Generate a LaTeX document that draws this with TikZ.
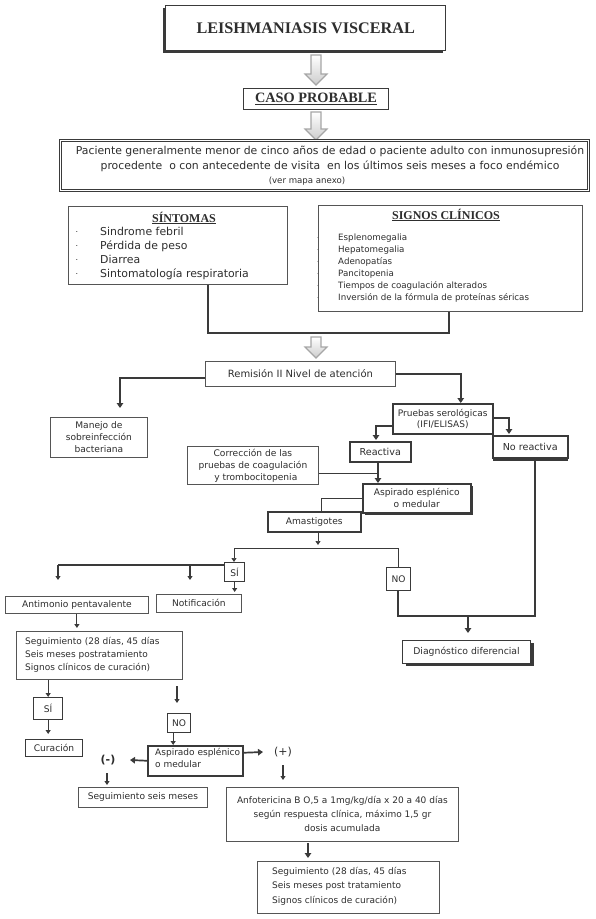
\documentclass[tikz,border=0pt]{standalone}
\usepackage{fontspec}
\setmainfont{DejaVu Sans}
\newfontfamily\serifb{Liberation Serif}
\usetikzlibrary{arrows.meta,shadows}
\definecolor{txt}{HTML}{2E2E2E}
\definecolor{dk}{HTML}{3A3A3A}
\definecolor{bd}{HTML}{555555}
\begin{document}
\begin{tikzpicture}[x=1pt,y=-1pt,
  every node/.style={text=txt, inner sep=0pt},
  box/.style={draw=bd, line width=0.8pt, fill=white, anchor=north west},
  tbox/.style={draw=dk, line width=1.6pt, fill=white, anchor=north west},
  conn/.style={draw=dk, line width=1.7pt},
  med/.style={draw=dk, line width=1.1pt},
  fine/.style={draw=dk, line width=0.7pt},
  arr/.style={-{Triangle[width=6.5pt,length=5pt]}},
  sarr/.style={-{Triangle[width=5pt,length=4pt]}},
  hollow/.style={draw=gray!70, line width=1.1pt, top color=white, bottom color=gray!40},
  pics/harrow/.style={code={\draw[hollow] (-5,0) -- (5,0) -- (5,#1-11) -- (11,#1-11) -- (0,#1) -- (-11,#1-11) -- (-5,#1-11) -- cycle;}},
  small/.style={font=\fontsize{9.1}{12}\selectfont},
  head/.style={font=\serifb\bfseries\fontsize{12}{14}\selectfont}
]
\useasboundingbox (0,0) rectangle (596,919);
\fill[white] (0,0) rectangle (596,919);

% title
\node[tbox, line width=1.4pt, minimum width=280pt, minimum height=45pt,
  drop shadow={shadow xshift=-2.5pt,shadow yshift=-2.5pt,fill=dk,opacity=1},
  font=\serifb\bfseries\fontsize{16.2}{18}\selectfont] (title) at (165,5) {LEISHMANIASIS VISCERAL};
\pic at (316,55) {harrow=30};

\node[box, draw=dk, line width=1.1pt, minimum width=145pt, minimum height=21pt,
  font=\serifb\bfseries\fontsize{14.3}{16}\selectfont] (caso) at (243,88) {\underline{CASO PROBABLE}};
\pic at (316,112) {harrow=28};

% patient
\node[box, draw=dk, line width=1pt, double=white, double distance=1.2pt,
  minimum width=528pt, minimum height=50pt] (pac) at (60,140) {};
\node[align=center, font=\fontsize{10.85}{15}\selectfont] (pacT) at (330,158.5)
  {Paciente generalmente menor de cinco años de edad o paciente adulto con inmunosupresión\\
   procedente\ \ o con antecedente de visita\ \ en los últimos seis meses a foco endémico};
\node[font=\fontsize{8.6}{10}\selectfont] (pacM) at (307,181) {(ver mapa anexo)};

% sintomas
\node[box, minimum width=219pt, minimum height=78pt] (sint) at (68,206) {};
\node[head] (sintH) at (184,218) {\underline{SÍNTOMAS}};
\node[anchor=north west, align=left, font=\fontsize{10.9}{14}\selectfont] (sintT) at (100,227)
  {Sindrome febril\\Pérdida de peso\\Diarrea\\Sintomatología respiratoria};
\foreach \yy/\nn in {232/d1,246/d2,260/d3,274/d4}
  \node[font=\fontsize{8}{9}\selectfont] (\nn) at (77,\yy) {.};

% signos
\node[box, minimum width=264pt, minimum height=106pt] (sig) at (318,205) {};
\node[head] (sigH) at (446,215) {\underline{SIGNOS CLÍNICOS}};
\node[anchor=north west, align=left, font=\fontsize{8.7}{12}\selectfont] (sigT) at (338,234)
  {Esplenomegalia\\Hepatomegalia\\Adenopatías\\Pancitopenia\\Tiempos de coagulación alterados\\Inversión de la fórmula de proteínas séricas};
\foreach \yy/\nn in {238/e1,250/e2,262/e3,274/e4,286/e5,298/e6}
  \node[font=\fontsize{5}{6}\selectfont] (\nn) at (318,\yy) {.};

\coordinate (jL) at (208,333);
\coordinate (jR) at (449,333);
\draw[conn] (sint.south -| jL) -- (jL) -- (jR) -- (sig.south -| jR);
\pic at (316,337) {harrow=21};

% remision
\node[box, minimum width=190pt, minimum height=25pt, font=\fontsize{10}{12}\selectfont] (rem) at (205,361) {Remisión II Nivel de atención};

\node[box, minimum width=97pt, minimum height=40pt, align=center, small] (man) at (50,417) {Manejo de\\sobreinfección\\bacteriana};
\node[tbox, line width=1.5pt, minimum width=100pt, minimum height=30pt, align=center, font=\fontsize{9}{11.5}\selectfont] (pru) at (392,403) {Pruebas serológicas\\(IFI/ELISAS)};
\node[tbox, line width=1.5pt, minimum width=61pt, minimum height=20pt, font=\fontsize{9.6}{11}\selectfont] (reac) at (349,441) {Reactiva};
\node[tbox, line width=1.5pt, minimum width=75pt, minimum height=22pt, font=\fontsize{9.6}{11}\selectfont,
  drop shadow={shadow xshift=0pt,shadow yshift=-3pt,fill=dk,opacity=1}] (nore) at (492,435) {No reactiva};

\coordinate (mTip) at (120,408);
\draw[conn,arr] ([yshift=-4pt]rem.west) -| (mTip);
\draw[conn,arr] (rem.east) -| ([xshift=18pt]pru.north);
\coordinate (rTip) at (376,440);
\draw[conn,arr] ([yshift=-7pt]pru.west) -| (rTip);
\coordinate (nrTip) at (509,434);
\draw[conn,arr] ([yshift=1pt]pru.east) -| (nrTip);

\node[box, minimum width=131pt, minimum height=38pt, align=center, small] (corr) at (187,446) {Corrección de las\\pruebas de coagulación\\\ \ y trombocitopenia};
\node[tbox, line width=1.5pt, minimum width=108pt, minimum height=29pt, align=center, small,
  drop shadow={shadow xshift=2.5pt,shadow yshift=-2.5pt,fill=dk,opacity=1}] (asp) at (362,483) {Aspirado esplénico\\o medular};
\coordinate (rx) at (378,0);
\draw[conn,arr] (reac.south -| rx) -- (asp.north -| rx);
\draw[conn] ([yshift=-8pt]corr.east) -- ([yshift=-8pt]corr.east -| rx);

\node[tbox, line width=1.5pt, minimum width=93pt, minimum height=20pt, small] (amas) at (267,511) {Amastigotes};
\coordinate (ax) at (321,0);
\draw[fine] (asp.west) -| (amas.north -| ax);

\node[tbox, line width=1.3pt, minimum width=20pt, minimum height=19pt, small] (si) at (224,562) {SÍ};
\node[tbox, line width=1.3pt, minimum width=24pt, minimum height=23pt, small] (no1) at (386,567) {NO};
\coordinate (hL) at (234,548);
\coordinate (hR) at (398,548);
\coordinate (hM) at (318,545);
\draw[fine,sarr] (amas.south -| hM) -- (hM);
\draw[fine] (hL) -- (hR) -- (no1.north -| hR);
\draw[fine,sarr] (hL) -- (si.north -| hL);

\node[box, minimum width=143pt, minimum height=17pt, small] (ant) at (5,596) {Antimonio pentavalente};
\node[box, minimum width=85pt, minimum height=18pt, small] (noti) at (156,594) {Notificación};
\coordinate (sL) at (58,565);
\coordinate (sN) at (190,565);
\coordinate (antTip) at (58,580);
\coordinate (notTip) at (190,580);
\draw[med] (si.west |- sL) -- (sL);
\draw[med,sarr] (sL) -- (antTip);
\draw[med,sarr] (sN) -- (notTip);
\draw[med,sarr] (si.south) -- ([yshift=2pt]si.south |- noti.north);

\node[box, line width=1pt, draw=dk, minimum width=128pt, minimum height=23pt, font=\fontsize{9.3}{11}\selectfont,
  drop shadow={shadow xshift=3pt,shadow yshift=-2.5pt,fill=dk,opacity=1}] (diag) at (402,640) {Diagnóstico diferencial};
\coordinate (nB) at (398,616);
\coordinate (nC) at (535,616);
\coordinate (dX) at (468,616);
\coordinate (dTip) at (468,633);
\draw[conn] (no1.south -| nB) -- (nB) -- (nC) -- (nore.south -| nC);
\draw[conn,arr] (dX) -- (dTip);

\node[box, minimum width=166pt, minimum height=48pt] (seg1) at (16,631) {};
\node[anchor=north west, align=left, font=\fontsize{9}{13}\selectfont] (seg1T) at (25,637)
  {Seguimiento (28 días, 45 días\\Seis meses postratamiento\\Signos clínicos de curación)};
\draw[med,sarr] (ant.south) -- ([yshift=3pt]seg1.north -| ant.south);

\node[tbox, line width=1.3pt, minimum width=29pt, minimum height=22pt, small] (si2) at (33,697) {SÍ};
\node[box, line width=1pt, draw=dk, minimum width=57pt, minimum height=17pt, small] (cur) at (25,739) {Curación};
\node[tbox, line width=1.3pt, minimum width=23pt, minimum height=19pt, small] (no2) at (167,713) {NO};
\node[tbox, line width=1.5pt, minimum width=95pt, minimum height=30pt] (asp2) at (147,745) {};
\node[anchor=north west, align=left, font=\fontsize{9}{12}\selectfont] (asp2T) at (155,748)
  {Aspirado esplénico\\o medular};

\draw[med,sarr] (seg1.south -| si2.north) -- (si2.north);
\coordinate (a1s) at (177,686);
\coordinate (a1e) at (177,703);
\draw[med,sarr] (a1s) -- (a1e);
\draw[med,sarr] (si2.south) -- ([yshift=5pt]cur.north -| si2.south);
\draw[med,sarr] ([xshift=-6pt]no2.south) -- ([xshift=-6pt]no2.south |- asp2.north);

\node[font=\bfseries\fontsize{11}{12}\selectfont] (neg) at (108,760) {(-)};
\node[font=\fontsize{11}{12}\selectfont] (pos) at (283,752) {(+)};
\coordinate (nTip) at (130,760);
\draw[conn,arr] (asp2.west) -- (nTip);
\coordinate (pTip) at (263,752);
\draw[conn,arr] ([yshift=8pt]asp2.east) -- (pTip);
\coordinate (n1) at (107,773);
\coordinate (n2) at (107,785);
\draw[med,sarr] (n1) -- (n2);
\coordinate (p1) at (283,765);
\coordinate (p2) at (283,780);
\draw[med,sarr] (p1) -- (p2);

\node[box, minimum width=129pt, minimum height=20pt, small] (segs) at (78,787) {Seguimiento seis meses};
\node[box, minimum width=232pt, minimum height=54pt, align=center, font=\fontsize{9}{14}\selectfont] (anfo) at (226,787)
  {Anfotericina B O,5 a 1mg/kg/día x 20 a 40 días\\según respuesta clínica, máximo 1,5 gr\\dosis acumulada};
\coordinate (f1) at (308,843);
\coordinate (f2) at (308,858);
\draw[conn,arr] (f1) -- (f2);

\node[box, minimum width=182pt, minimum height=52pt] (seg2) at (257,861) {};
\node[anchor=north west, align=left, font=\fontsize{9}{14.5}\selectfont] (seg2T) at (272,867)
  {Seguimiento (28 días, 45 días\\Seis meses post tratamiento\\Signos clínicos de curación)};
\end{tikzpicture}
\end{document}
